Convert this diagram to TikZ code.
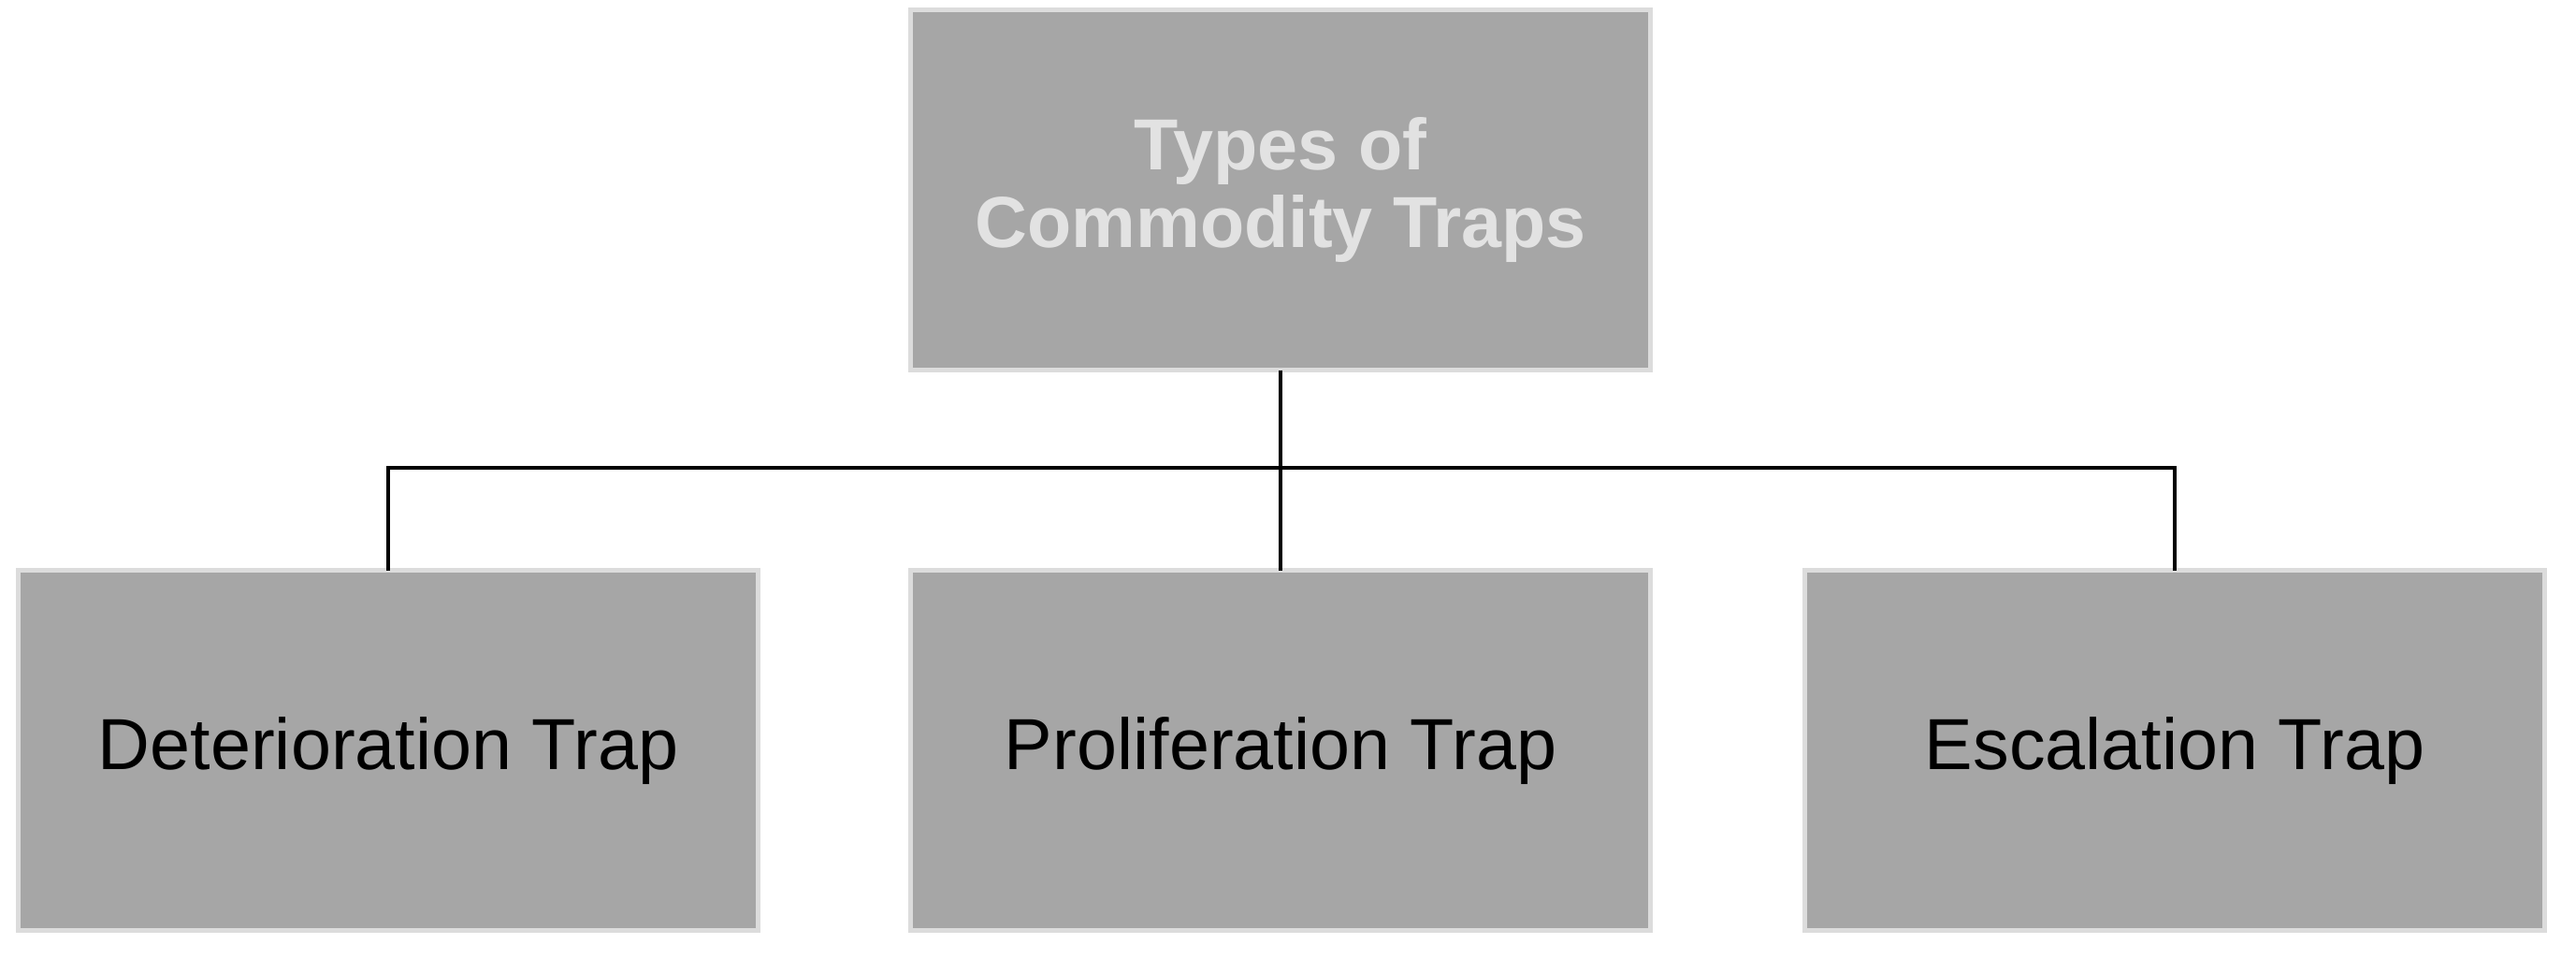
\documentclass[tikz,border=0pt]{standalone}
\usepackage{fontspec}
\setmainfont{Liberation Sans}
\usetikzlibrary{positioning}
\definecolor{boxgray}{HTML}{A6A6A6}
\definecolor{edgegray}{HTML}{DCDCDC}
\definecolor{titlegray}{HTML}{E2E2E2}

\begin{document}
\begin{tikzpicture}[
    text centered,
	block/.style={
	  rectangle,
	  line width=1.4pt,
	  draw=edgegray,
	  fill=boxgray,
	  inner sep=0pt,
	  outer sep=0pt,
	  minimum width=7.91cm,
	  minimum height=3.85cm,
	  font=\fontsize{22}{23.5}\selectfont
	},
	title/.style={
	  block,
	  text=titlegray,
	  align=center,
	  font=\fontsize{22}{23.5}\selectfont\bfseries
	},
 	line/.style={draw, line width=1pt}
	]
	\useasboundingbox (0, 0) rectangle (27.54, -10.24);
	\node [title] at (13.69, -2.03) (types) {Types of\\Commodity Traps};
	\node [block, below=2.14cm of types] (proliferation) {Proliferation Trap};
	\node [block, left=1.63cm of proliferation] (deterioration) {Deterioration Trap};
	\node [block, right=1.65cm of proliferation] (escalation) {Escalation Trap};
	\coordinate (bus) at (0, -5.00);
	\path[line] (types) -- (proliferation);
	\path[line] (deterioration) -- (deterioration.north |- bus) -- (escalation.north |- bus) -- (escalation);
  \end{tikzpicture}
\end{document}
